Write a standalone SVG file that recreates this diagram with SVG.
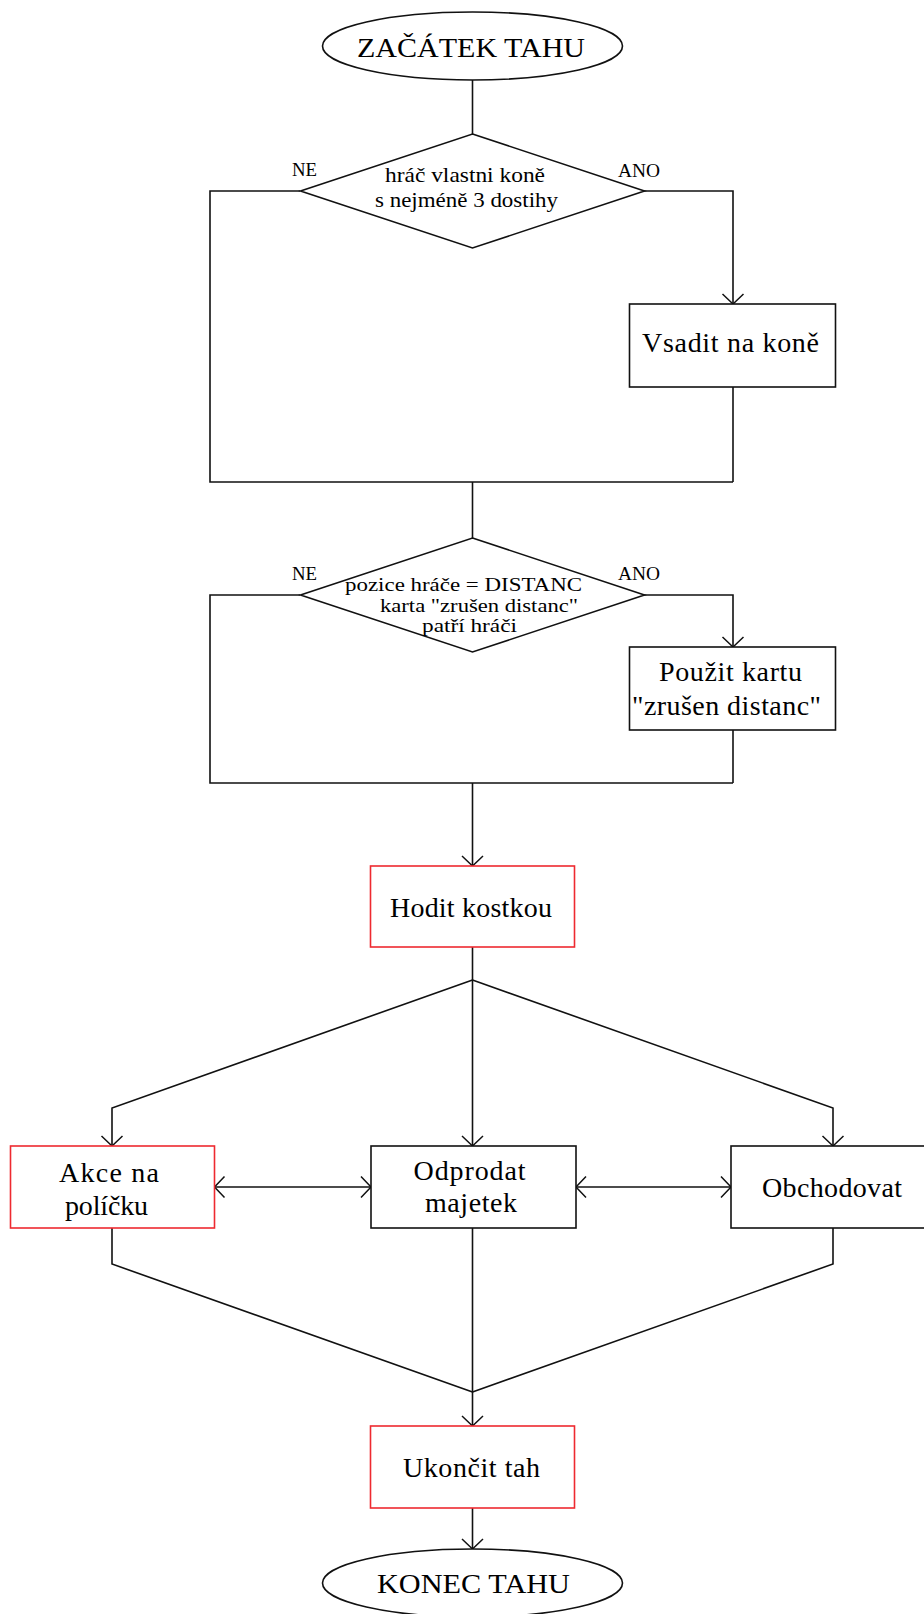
<svg xmlns="http://www.w3.org/2000/svg" width="924" height="1614" viewBox="0 0 924 1614">
<style>
.bg{fill:#fff}
.box{fill:#fff;stroke:#111;stroke-width:1.6}
.red{fill:#fff;stroke:#ee2a30;stroke-width:1.6}
.ln{fill:none;stroke:#111;stroke-width:1.6}
.t{font-family:"Liberation Serif","Times New Roman",serif;fill:#000;text-anchor:middle}
.big{font-size:28px}
.sm{font-size:21px}
.xs{font-size:18px}
.lbl{font-size:18px;text-anchor:start}
</style>
<defs>
<marker id="arr" markerUnits="userSpaceOnUse" markerWidth="24" markerHeight="24" viewBox="-12 -12 24 24" refX="0" refY="0" orient="auto-start-reverse">
<path d="M-10,-10.5 L0,0 L-10,10.5" fill="none" stroke="#111" stroke-width="1.5"/>
</marker>
</defs>
<rect class="bg" x="0" y="0" width="924" height="1614"/>

<g id="connectors">
<line class="ln" x1="472.5" y1="80" x2="472.5" y2="134"/>
<polyline class="ln" points="300,191 210,191 210,482 733,482"/>
<polyline class="ln" points="644,191 733,191 733,304" marker-end="url(#arr)"/>
<line class="ln" x1="733" y1="387" x2="733" y2="482"/>
<line class="ln" x1="472.5" y1="482" x2="472.5" y2="538"/>
<polyline class="ln" points="300,595 210,595 210,783 733,783"/>
<polyline class="ln" points="644,595 733,595 733,647" marker-end="url(#arr)"/>
<line class="ln" x1="733" y1="730" x2="733" y2="783"/>
<line class="ln" x1="472.5" y1="783" x2="472.5" y2="866" marker-end="url(#arr)"/>
<line class="ln" x1="472.5" y1="947" x2="472.5" y2="1146" marker-end="url(#arr)"/>
<polyline class="ln" points="472.5,980 112,1108 112,1146" marker-end="url(#arr)"/>
<polyline class="ln" points="472.5,980 833,1108 833,1146" marker-end="url(#arr)"/>
<line class="ln" x1="214.5" y1="1187" x2="371" y2="1187" marker-start="url(#arr)" marker-end="url(#arr)"/>
<line class="ln" x1="576" y1="1187" x2="731" y2="1187" marker-start="url(#arr)" marker-end="url(#arr)"/>
<line class="ln" x1="472.5" y1="1228" x2="472.5" y2="1426" marker-end="url(#arr)"/>
<polyline class="ln" points="112,1228 112,1264 472.5,1392"/>
<polyline class="ln" points="833,1228 833,1264 472.5,1392"/>
<line class="ln" x1="472.5" y1="1508" x2="472.5" y2="1549" marker-end="url(#arr)"/>
</g>

<g id="start">
<ellipse class="box" cx="472.5" cy="46" rx="150" ry="34"/>
<text class="t big" x="471" y="57" textLength="228" lengthAdjust="spacingAndGlyphs">ZAČÁTEK TAHU</text>
</g>

<g id="decision1">
<polygon class="box" points="472.5,134 644.5,191 472.5,248 300.5,191"/>
<text class="t sm" x="465" y="182" textLength="160" lengthAdjust="spacingAndGlyphs">hráč vlastni koně</text>
<text class="t sm" x="466.5" y="207" textLength="183" lengthAdjust="spacingAndGlyphs">s nejméně 3 dostihy</text>
<text class="t lbl" x="292" y="176" textLength="25" lengthAdjust="spacingAndGlyphs">NE</text>
<text class="t lbl" x="618" y="177" textLength="42" lengthAdjust="spacingAndGlyphs">ANO</text>
</g>

<g id="bet">
<rect class="box" x="629.5" y="304" width="206" height="83"/>
<text class="t big" x="730.5" y="352" textLength="177" lengthAdjust="spacing">Vsadit na koně</text>
</g>

<g id="decision2">
<polygon class="box" points="472.5,538 644.5,595 472.5,652 300.5,595"/>
<text class="t xs" x="463.5" y="591" textLength="237" lengthAdjust="spacingAndGlyphs">pozice hráče = DISTANC</text>
<text class="t xs" x="479" y="612" textLength="198" lengthAdjust="spacingAndGlyphs">karta "zrušen distanc"</text>
<text class="t xs" x="469.5" y="632" textLength="95" lengthAdjust="spacingAndGlyphs">patří hráči</text>
<text class="t lbl" x="292" y="580" textLength="25" lengthAdjust="spacingAndGlyphs">NE</text>
<text class="t lbl" x="618" y="580" textLength="42" lengthAdjust="spacingAndGlyphs">ANO</text>
</g>

<g id="card">
<rect class="box" x="629.5" y="647" width="206" height="83"/>
<text class="t big" x="730.5" y="681" textLength="143" lengthAdjust="spacing">Použit kartu</text>
<text class="t big" x="726.5" y="715" textLength="189" lengthAdjust="spacing">"zrušen distanc"</text>
</g>

<g id="roll">
<rect class="red" x="370.5" y="866" width="204" height="81"/>
<text class="t big" x="471" y="917" textLength="162" lengthAdjust="spacing">Hodit kostkou</text>
</g>

<g id="action">
<rect class="red" x="10.5" y="1146" width="204" height="82"/>
<text class="t big" x="109" y="1182" textLength="100" lengthAdjust="spacing">Akce na</text>
<text class="t big" x="106.5" y="1215" textLength="83" lengthAdjust="spacing">políčku</text>
</g>

<g id="sell">
<rect class="box" x="371" y="1146" width="205" height="82"/>
<text class="t big" x="469.6" y="1180" textLength="112" lengthAdjust="spacing">Odprodat</text>
<text class="t big" x="471" y="1212" textLength="92" lengthAdjust="spacing">majetek</text>
</g>

<g id="trade">
<rect class="box" x="731" y="1146" width="205" height="82"/>
<text class="t big" x="832" y="1197" textLength="140" lengthAdjust="spacing">Obchodovat</text>
</g>

<g id="endturn">
<rect class="red" x="370.5" y="1426" width="204" height="82"/>
<text class="t big" x="471.5" y="1477" textLength="137" lengthAdjust="spacing">Ukončit tah</text>
</g>

<g id="end">
<ellipse class="box" cx="472.5" cy="1583" rx="150" ry="34"/>
<text class="t big" x="473.5" y="1593" textLength="193" lengthAdjust="spacingAndGlyphs">KONEC TAHU</text>
</g>
</svg>
